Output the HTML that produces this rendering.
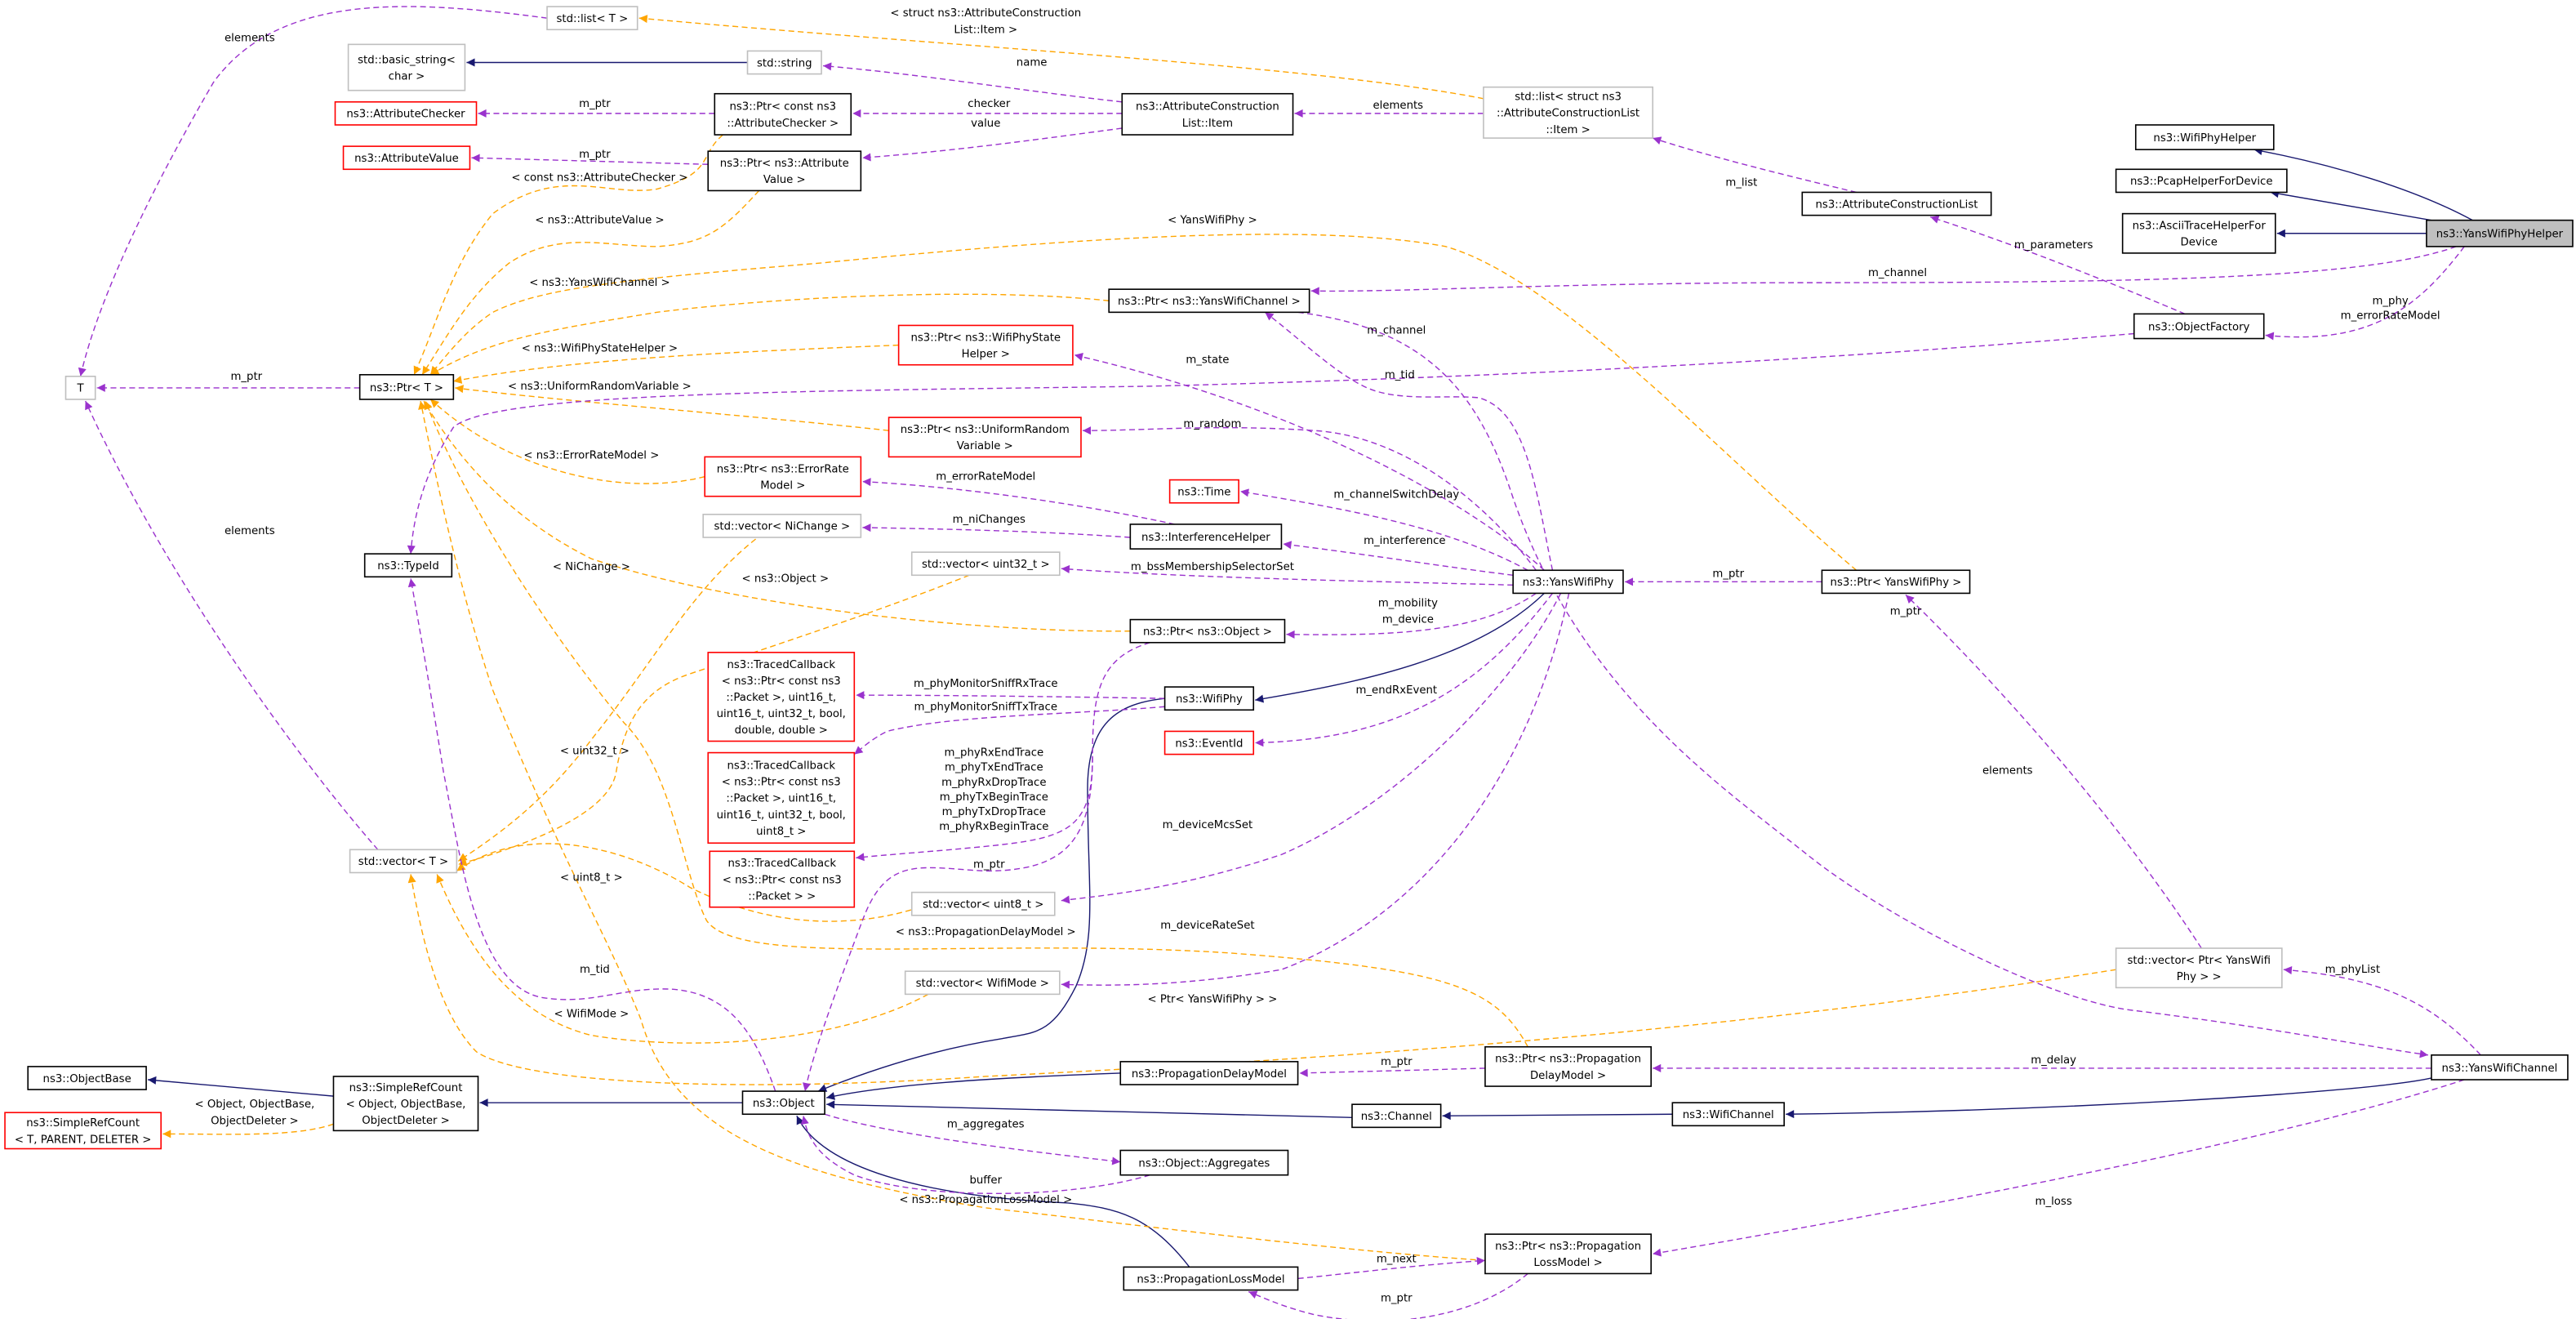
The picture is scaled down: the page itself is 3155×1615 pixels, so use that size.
<!DOCTYPE html>
<html><head><meta charset="utf-8"><style>
html,body{margin:0;padding:0;background:#fff;width:3155px;height:1615px;overflow:hidden}
svg{display:block}
text{font-family:"DejaVu Sans","Liberation Sans",sans-serif;font-size:6.6px;fill:#000}
.nd text,text.c{text-anchor:middle}
.b{fill:#fff;stroke:#000;stroke-width:0.8}
.g{fill:#fff;stroke:#bfbfbf;stroke-width:0.8}
.r{fill:#fff;stroke:#ff0000;stroke-width:0.8}
.p{fill:none;stroke:#9a32cd;stroke-width:0.7;stroke-dasharray:3.5,2.2}
.o{fill:none;stroke:#ffa500;stroke-width:0.7;stroke-dasharray:3.5,2.2}
.n{fill:none;stroke:#191970;stroke-width:0.7}
</style></head><body>
<svg width="3155" height="1615" viewBox="0 0 1568 802.6" xmlns="http://www.w3.org/2000/svg">
<defs>
<marker id="mp" viewBox="0 0 10 10" refX="10" refY="5" markerWidth="6" markerHeight="5" markerUnits="userSpaceOnUse" orient="auto"><path d="M0,0L10,5L0,10z" fill="#9a32cd"/></marker>
<marker id="mo" viewBox="0 0 10 10" refX="10" refY="5" markerWidth="6" markerHeight="5" markerUnits="userSpaceOnUse" orient="auto"><path d="M0,0L10,5L0,10z" fill="#ffa500"/></marker>
<marker id="mn" viewBox="0 0 10 10" refX="10" refY="5" markerWidth="6" markerHeight="5" markerUnits="userSpaceOnUse" orient="auto"><path d="M0,0L10,5L0,10z" fill="#191970"/></marker>
</defs>

<!-- navy inheritance -->
<g marker-end="url(#mn)">
<path class="n" d="M1505,134 C1470,115 1420,100 1372,91"/>
<path class="n" d="M1480,134 L1382,117"/>
<path class="n" d="M1477,142 L1386,142"/>
<path class="n" d="M455,38 L284,38"/>
<path class="n" d="M940,361 C900,400 830,415 764,426"/>
<path class="n" d="M709,425 C680,428 662,440 662,480 C662,540 668,570 655,600 C640,630 630,628 610,632 C560,640 520,655 498,664"/>
<path class="n" d="M682,653 C600,656 540,660 503,668"/>
<path class="n" d="M823,680 L503,672"/>
<path class="n" d="M1018,678 L878,679"/>
<path class="n" d="M1480,656 C1440,665 1250,676 1087,678"/>
<path class="n" d="M724,771 C700,740 680,735 650,732 C560,728 500,710 485,679"/>
<path class="n" d="M452,671 L292,671"/>
<path class="n" d="M203,667 L90,657"/>
</g>

<!-- orange template -->
<g marker-end="url(#mo)">
<path class="o" d="M203,684 C180,692 140,690 99,690"/>
<path class="o" d="M903,60 C800,40 600,30 389,11"/>
<path class="o" d="M440,82 C425,95 435,105 400,115 C370,120 340,100 300,130 C275,160 265,200 252,228"/>
<path class="o" d="M462,116 C440,140 430,148 400,150 C370,150 340,140 310,160 C285,180 272,205 257,228"/>
<path class="o" d="M1130,347 C1050,280 950,170 880,150 C800,135 650,145 500,160 C380,170 330,175 300,190 C285,200 275,212 262,228"/>
<path class="o" d="M675,183 C600,175 480,180 400,190 C340,200 300,205 262,228"/>
<path class="o" d="M547,210 C450,214 350,218 276,232"/>
<path class="o" d="M541,262 C450,252 350,245 277,236"/>
<path class="o" d="M429,290 C390,300 340,292 300,270 C285,262 272,252 262,243"/>
<path class="o" d="M688,384 C600,385 450,370 360,340 C320,320 285,290 258,244"/>
<path class="o" d="M930,637 C910,600 880,590 750,580 C600,570 450,590 430,560 C415,530 410,470 380,440 C330,380 280,300 259,244"/>
<path class="o" d="M904,767 C800,760 650,740 600,735 C480,715 410,690 390,620 C370,570 340,520 300,420 C280,360 265,290 256,244"/>
<path class="o" d="M460,328 C420,360 400,400 360,450 C330,490 300,510 279,524"/>
<path class="o" d="M590,350 C540,370 480,390 420,410 C390,420 380,440 375,470 C370,500 300,520 279,526"/>
<path class="o" d="M560,552 C520,565 470,565 420,540 C380,515 320,500 278,530"/>
<path class="o" d="M565,605 C510,635 420,640 360,630 C320,620 290,590 266,532"/>
<path class="o" d="M1288,590 C1100,620 900,640 600,655 C450,665 320,660 290,640 C270,620 258,580 250,532"/>
</g>

<!-- purple association -->
<g marker-end="url(#mp)">
<path class="p" d="M333,11 C250,0 170,-5 130,50 C95,110 60,180 49,229"/>
<path class="p" d="M230,517 C180,460 100,350 52,244"/>
<path class="p" d="M219,236 L59,236"/>
<path class="p" d="M435,69 L291,69"/>
<path class="p" d="M431,100 L287,96"/>
<path class="p" d="M683,62 C620,55 560,45 501,40"/>
<path class="p" d="M683,69 L519,69"/>
<path class="p" d="M683,78 C630,85 580,92 525,96"/>
<path class="p" d="M903,69 L788,69"/>
<path class="p" d="M1130,117 C1080,105 1040,95 1006,84"/>
<path class="p" d="M1330,191 C1280,170 1230,150 1175,132"/>
<path class="p" d="M1500,150 C1470,190 1440,210 1379,204"/>
<path class="p" d="M1495,150 C1440,170 1300,172 1100,172 C950,172 850,178 798,177"/>
<path class="p" d="M1299,203 C1100,220 900,230 700,235 C500,238 300,238 276,260 C260,285 252,310 250,337"/>
<path class="p" d="M945,347 C935,300 930,250 900,242 C880,240 850,245 830,235 C810,225 790,205 770,190"/>
<path class="p" d="M940,347 C900,310 800,250 654,216"/>
<path class="p" d="M935,347 C900,300 850,265 800,262 C740,258 700,262 659,262"/>
<path class="p" d="M930,347 C880,320 820,310 755,299"/>
<path class="p" d="M921,350 C880,345 830,337 781,331"/>
<path class="p" d="M921,356 C850,354 730,352 646,346"/>
<path class="p" d="M935,361 C900,385 850,387 783,386"/>
<path class="p" d="M945,361 C900,420 850,450 764,452"/>
<path class="p" d="M950,361 C920,420 850,490 780,520 C720,540 680,544 646,548"/>
<path class="p" d="M955,361 C930,480 860,560 780,590 C720,600 680,600 646,599"/>
<path class="p" d="M1109,354 L989,354"/>
<path class="p" d="M715,319 C650,305 580,296 525,293"/>
<path class="p" d="M688,327 C630,323 580,322 525,321"/>
<path class="p" d="M709,425 C650,424 580,423 521,423"/>
<path class="p" d="M709,430 C650,435 580,435 540,445 C530,450 525,455 520,459"/>
<path class="p" d="M700,391 C670,400 665,420 665,460 C665,505 650,510 600,515 C570,518 540,520 521,522"/>
<path class="p" d="M665,460 C665,510 650,530 600,530 C560,528 540,520 525,560 C510,600 495,640 490,664"/>
<path class="p" d="M472,664 C460,630 445,605 410,602 C380,600 360,612 330,607 C290,600 280,520 270,470 C262,420 255,380 250,352"/>
<path class="p" d="M502,678 C540,690 620,700 682,707"/>
<path class="p" d="M700,715 C650,730 560,730 520,715 C500,705 492,695 489,679"/>
<path class="p" d="M904,650 C870,651 830,652 791,653"/>
<path class="p" d="M1480,650 C1300,650 1150,650 1006,650"/>
<path class="p" d="M1500,657 C1400,690 1200,730 1006,763"/>
<path class="p" d="M1510,642 C1480,610 1450,595 1390,590"/>
<path class="p" d="M790,190 C870,200 900,240 920,300 C960,420 1050,480 1100,520 C1150,560 1250,610 1300,615 C1380,625 1430,635 1478,642"/>
<path class="p" d="M1340,577 C1290,500 1220,420 1160,362"/>
<path class="p" d="M790,778 C830,774 860,770 904,767"/>
<path class="p" d="M930,775 C900,800 850,810 800,800 C780,795 770,790 760,786"/>
</g>

<!-- edge labels -->
<g>
<text class="c" x="152" y="25">elements</text>
<text class="c" x="600" y="10">&lt; struct ns3::AttributeConstruction</text>
<text class="c" x="600" y="20">List::Item &gt;</text>
<text class="c" x="628" y="40">name</text>
<text class="c" x="602" y="65">checker</text>
<text class="c" x="600" y="77">value</text>
<text class="c" x="362" y="65">m_ptr</text>
<text class="c" x="362" y="96">m_ptr</text>
<text class="c" x="365" y="110">&lt; const ns3::AttributeChecker &gt;</text>
<text class="c" x="365" y="136">&lt; ns3::AttributeValue &gt;</text>
<text class="c" x="851" y="66">elements</text>
<text class="c" x="1060" y="113">m_list</text>
<text class="c" x="1250" y="151">m_parameters</text>
<text class="c" x="738" y="136">&lt; YansWifiPhy &gt;</text>
<text class="c" x="1155" y="168">m_channel</text>
<text class="c" x="1455" y="185">m_phy</text>
<text class="c" x="1455" y="194">m_errorRateModel</text>
<text class="c" x="365" y="174">&lt; ns3::YansWifiChannel &gt;</text>
<text class="c" x="850" y="203">m_channel</text>
<text class="c" x="365" y="214">&lt; ns3::WifiPhyStateHelper &gt;</text>
<text class="c" x="735" y="221">m_state</text>
<text class="c" x="852" y="230">m_tid</text>
<text class="c" x="150" y="231">m_ptr</text>
<text class="c" x="365" y="237">&lt; ns3::UniformRandomVariable &gt;</text>
<text class="c" x="738" y="260">m_random</text>
<text class="c" x="360" y="279">&lt; ns3::ErrorRateModel &gt;</text>
<text class="c" x="600" y="292">m_errorRateModel</text>
<text class="c" x="850" y="303">m_channelSwitchDelay</text>
<text class="c" x="602" y="318">m_niChanges</text>
<text class="c" x="152" y="325">elements</text>
<text class="c" x="855" y="331">m_interference</text>
<text class="c" x="360" y="347">&lt; NiChange &gt;</text>
<text class="c" x="738" y="347">m_bssMembershipSelectorSet</text>
<text class="c" x="1052" y="351">m_ptr</text>
<text class="c" x="478" y="354">&lt; ns3::Object &gt;</text>
<text class="c" x="857" y="369">m_mobility</text>
<text class="c" x="857" y="379">m_device</text>
<text class="c" x="1160" y="374">m_ptr</text>
<text class="c" x="600" y="418">m_phyMonitorSniffRxTrace</text>
<text class="c" x="600" y="432">m_phyMonitorSniffTxTrace</text>
<text class="c" x="850" y="422">m_endRxEvent</text>
<text class="c" x="605" y="460">m_phyRxEndTrace</text>
<text class="c" x="605" y="469">m_phyTxEndTrace</text>
<text class="c" x="605" y="478">m_phyRxDropTrace</text>
<text class="c" x="605" y="487">m_phyTxBeginTrace</text>
<text class="c" x="605" y="496">m_phyTxDropTrace</text>
<text class="c" x="605" y="505">m_phyRxBeginTrace</text>
<text class="c" x="362" y="459">&lt; uint32_t &gt;</text>
<text class="c" x="1222" y="471">elements</text>
<text class="c" x="735" y="504">m_deviceMcsSet</text>
<text class="c" x="602" y="528">m_ptr</text>
<text class="c" x="360" y="536">&lt; uint8_t &gt;</text>
<text class="c" x="735" y="565">m_deviceRateSet</text>
<text class="c" x="600" y="569">&lt; ns3::PropagationDelayModel &gt;</text>
<text class="c" x="362" y="592">m_tid</text>
<text class="c" x="1432" y="592">m_phyList</text>
<text class="c" x="360" y="619">&lt; WifiMode &gt;</text>
<text class="c" x="738" y="610">&lt; Ptr&lt; YansWifiPhy &gt; &gt;</text>
<text class="c" x="850" y="648">m_ptr</text>
<text class="c" x="1250" y="647">m_delay</text>
<text class="c" x="155" y="674">&lt; Object, ObjectBase,</text>
<text class="c" x="155" y="684">ObjectDeleter &gt;</text>
<text class="c" x="600" y="686">m_aggregates</text>
<text class="c" x="600" y="720">buffer</text>
<text class="c" x="600" y="732">&lt; ns3::PropagationLossModel &gt;</text>
<text class="c" x="1250" y="733">m_loss</text>
<text class="c" x="850" y="768">m_next</text>
<text class="c" x="850" y="792">m_ptr</text>
</g>

<!-- nodes -->
<g class="nd">
<rect class="g" x="333" y="4" width="55" height="14"/><text x="360.5" y="13.4">std::list&lt; T &gt;</text>
<rect class="g" x="212" y="27" width="71" height="28"/><text x="247.5" y="38.4">std::basic_string&lt;</text><text x="247.5" y="48.4">char &gt;</text>
<rect class="g" x="455" y="31" width="45" height="14"/><text x="477.5" y="40.4">std::string</text>
<rect class="r" x="204" y="62" width="86" height="14"/><text x="247" y="71.4">ns3::AttributeChecker</text>
<rect class="r" x="209" y="89" width="77" height="14"/><text x="247.5" y="98.4">ns3::AttributeValue</text>
<rect class="b" x="435" y="57" width="83" height="25"/><text x="476.5" y="66.9">ns3::Ptr&lt; const ns3</text><text x="476.5" y="76.9">::AttributeChecker &gt;</text>
<rect class="b" x="431" y="92" width="93" height="24"/><text x="477.5" y="101.4">ns3::Ptr&lt; ns3::Attribute</text><text x="477.5" y="111.4">Value &gt;</text>
<rect class="b" x="683" y="57" width="104" height="25"/><text x="735" y="66.9">ns3::AttributeConstruction</text><text x="735" y="76.9">List::Item</text>
<rect class="g" x="903" y="53" width="103" height="31"/><text x="954.5" y="60.9">std::list&lt; struct ns3</text><text x="954.5" y="70.9">::AttributeConstructionList</text><text x="954.5" y="80.9">::Item &gt;</text>
<rect class="b" x="1097" y="117" width="115" height="14"/><text x="1154.5" y="126.4">ns3::AttributeConstructionList</text>
<rect class="b" x="1300" y="76" width="84" height="15"/><text x="1342" y="86">ns3::WifiPhyHelper</text>
<rect class="b" x="1288" y="103" width="104" height="14"/><text x="1340" y="112.4">ns3::PcapHelperForDevice</text>
<rect class="b" x="1292" y="130" width="93" height="24"/><text x="1338.5" y="139.4">ns3::AsciiTraceHelperFor</text><text x="1338.5" y="149.4">Device</text>
<rect x="1477" y="134" width="89" height="16" fill="#bfbfbf" stroke="#000" stroke-width="0.8"/><text x="1521.5" y="144.4">ns3::YansWifiPhyHelper</text>
<rect class="b" x="1299" y="191" width="79" height="15"/><text x="1338.5" y="201">ns3::ObjectFactory</text>
<rect class="b" x="675" y="176" width="122" height="14"/><text x="736" y="185.4">ns3::Ptr&lt; ns3::YansWifiChannel &gt;</text>
<rect class="r" x="547" y="198" width="106" height="24"/><text x="600" y="207.4">ns3::Ptr&lt; ns3::WifiPhyState</text><text x="600" y="217.4">Helper &gt;</text>
<rect class="g" x="40" y="229" width="18" height="14"/><text x="49" y="238.4">T</text>
<rect class="b" x="219" y="228" width="57" height="15"/><text x="247.5" y="238">ns3::Ptr&lt; T &gt;</text>
<rect class="r" x="541" y="254" width="117" height="24"/><text x="599.5" y="263.4">ns3::Ptr&lt; ns3::UniformRandom</text><text x="599.5" y="273.4">Variable &gt;</text>
<rect class="r" x="429" y="278" width="95" height="24"/><text x="476.5" y="287.4">ns3::Ptr&lt; ns3::ErrorRate</text><text x="476.5" y="297.4">Model &gt;</text>
<rect class="r" x="712" y="292" width="42" height="14"/><text x="733" y="301.4">ns3::Time</text>
<rect class="g" x="428" y="313" width="96" height="14"/><text x="476" y="322.4">std::vector&lt; NiChange &gt;</text>
<rect class="b" x="688" y="319" width="92" height="15"/><text x="734" y="329">ns3::InterferenceHelper</text>
<rect class="b" x="222" y="337" width="53" height="14"/><text x="248.5" y="346.4">ns3::TypeId</text>
<rect class="g" x="555" y="336" width="90" height="14"/><text x="600" y="345.4">std::vector&lt; uint32_t &gt;</text>
<rect class="b" x="921" y="347" width="67" height="14"/><text x="954.5" y="356.4">ns3::YansWifiPhy</text>
<rect class="b" x="1109" y="347" width="90" height="14"/><text x="1154" y="356.4">ns3::Ptr&lt; YansWifiPhy &gt;</text>
<rect class="b" x="688" y="377" width="94" height="14"/><text x="735" y="386.4">ns3::Ptr&lt; ns3::Object &gt;</text>
<rect class="r" x="431" y="397" width="89" height="54"/><text x="475.5" y="406.4">ns3::TracedCallback</text><text x="475.5" y="416.4">&lt; ns3::Ptr&lt; const ns3</text><text x="475.5" y="426.4">::Packet &gt;, uint16_t,</text><text x="475.5" y="436.4">uint16_t, uint32_t, bool,</text><text x="475.5" y="446.4">double, double &gt;</text>
<rect class="b" x="709" y="418" width="54" height="14"/><text x="736" y="427.4">ns3::WifiPhy</text>
<rect class="r" x="709" y="445" width="54" height="14"/><text x="736" y="454.4">ns3::EventId</text>
<rect class="r" x="431" y="458" width="89" height="55"/><text x="475.5" y="467.9">ns3::TracedCallback</text><text x="475.5" y="477.9">&lt; ns3::Ptr&lt; const ns3</text><text x="475.5" y="487.9">::Packet &gt;, uint16_t,</text><text x="475.5" y="497.9">uint16_t, uint32_t, bool,</text><text x="475.5" y="507.9">uint8_t &gt;</text>
<rect class="g" x="213" y="517" width="65" height="14"/><text x="245.5" y="526.4">std::vector&lt; T &gt;</text>
<rect class="r" x="432" y="518" width="88" height="34"/><text x="476" y="527.4">ns3::TracedCallback</text><text x="476" y="537.4">&lt; ns3::Ptr&lt; const ns3</text><text x="476" y="547.4">::Packet &gt; &gt;</text>
<rect class="g" x="555" y="543" width="87" height="14"/><text x="598.5" y="552.4">std::vector&lt; uint8_t &gt;</text>
<rect class="g" x="551" y="591" width="94" height="14"/><text x="598" y="600.4">std::vector&lt; WifiMode &gt;</text>
<rect class="g" x="1288" y="577" width="101" height="24"/><text x="1338.5" y="586.4">std::vector&lt; Ptr&lt; YansWifi</text><text x="1338.5" y="596.4">Phy &gt; &gt;</text>
<rect class="b" x="17" y="649" width="72" height="14"/><text x="53" y="658.4">ns3::ObjectBase</text>
<rect class="b" x="203" y="655" width="88" height="33"/><text x="247" y="663.9">ns3::SimpleRefCount</text><text x="247" y="673.9">&lt; Object, ObjectBase,</text><text x="247" y="683.9">ObjectDeleter &gt;</text>
<rect class="r" x="3" y="677" width="95" height="22"/><text x="50.5" y="685.4">ns3::SimpleRefCount</text><text x="50.5" y="695.4">&lt; T, PARENT, DELETER &gt;</text>
<rect class="b" x="452" y="664" width="50" height="14"/><text x="477" y="673.4">ns3::Object</text>
<rect class="b" x="682" y="646" width="108" height="14"/><text x="736" y="655.4">ns3::PropagationDelayModel</text>
<rect class="b" x="904" y="637" width="101" height="24"/><text x="954.5" y="646.4">ns3::Ptr&lt; ns3::Propagation</text><text x="954.5" y="656.4">DelayModel &gt;</text>
<rect class="b" x="1480" y="642" width="83" height="15"/><text x="1521.5" y="652">ns3::YansWifiChannel</text>
<rect class="b" x="823" y="672" width="54" height="14"/><text x="850" y="681.4">ns3::Channel</text>
<rect class="b" x="1018" y="671" width="68" height="14"/><text x="1052" y="680.4">ns3::WifiChannel</text>
<rect class="b" x="682" y="700" width="102" height="15"/><text x="733" y="710">ns3::Object::Aggregates</text>
<rect class="b" x="684" y="771" width="106" height="14"/><text x="737" y="780.4">ns3::PropagationLossModel</text>
<rect class="b" x="904" y="751" width="101" height="24"/><text x="954.5" y="760.4">ns3::Ptr&lt; ns3::Propagation</text><text x="954.5" y="770.4">LossModel &gt;</text>
</g>
</svg>
</body></html>
